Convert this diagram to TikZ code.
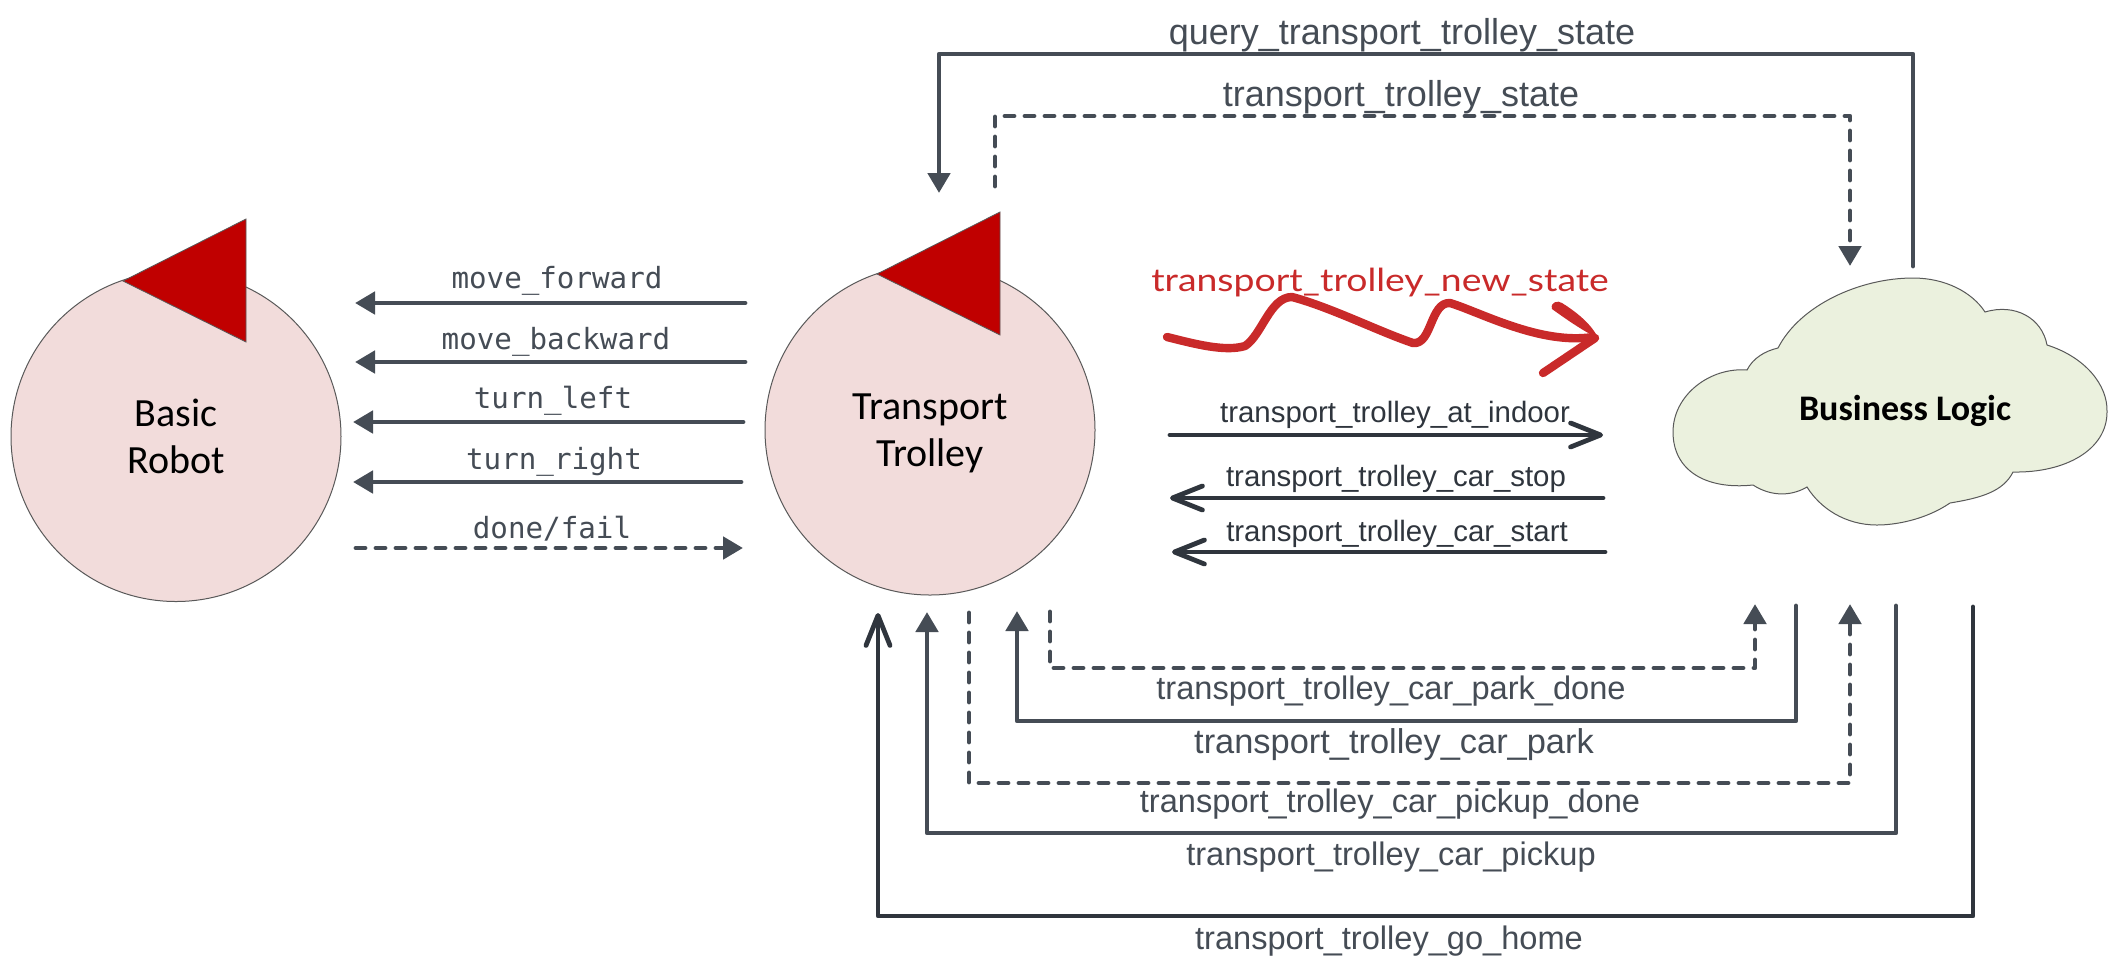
\documentclass[tikz,border=0pt]{standalone}
\usepackage{fontspec}
\setmainfont{Carlito}
\newfontfamily\arialf{Liberation Sans}
\newfontfamily\monof{DejaVu Sans Mono}
\newfontfamily\handf{Lato}
\usetikzlibrary{arrows.meta}
\definecolor{wire}{HTML}{454C55}
\definecolor{wiredark}{HTML}{2F353D}
\definecolor{redtri}{HTML}{C00000}
\definecolor{pinkfill}{HTML}{F2DCDB}
\definecolor{cloudfill}{HTML}{EBF1DE}
\definecolor{edgegray}{HTML}{595959}
\definecolor{handred}{HTML}{C92A2A}
\tikzset{
  ball/.style={circle,draw=edgegray,line width=0.5pt,fill=pinkfill,minimum size=165pt,inner sep=0pt,align=center,font=\fontsize{20}{23.5}\selectfont,text=black},
  balltext/.style={inner sep=0pt,align=center,font=\fontsize{20}{23.5}\selectfont,text=black},
  pointer/.style={draw=edgegray,fill=redtri,line width=0.4pt,line join=miter},
  solidlink/.style={draw=wire,line width=2.4pt,line join=round,line cap=round,-{Triangle[length=10pt,width=11pt]}},
  dashlink/.style={solidlink,dash pattern=on 4.5pt off 5.5pt},
  openlink/.style={draw=wiredark,line width=2.4pt,line join=round,line cap=round,-{Straight Barb[length=15pt,width=12pt,round]}},
  monolabel/.style={font=\monof\fontsize{14.6}{17}\selectfont,text=wire,inner sep=0pt},
  biglabel/.style={font=\arialf\fontsize{18}{21}\selectfont,text=wire,inner sep=0pt},
  midlabel/.style={font=\arialf\fontsize{16.3}{19}\selectfont,text=wire,inner sep=0pt},
  smalllabel/.style={font=\arialf\fontsize{14.7}{17}\selectfont,text=wiredark,inner sep=0pt},
}
\begin{document}
\begin{tikzpicture}[x=0.5pt,y=-0.5pt]
\useasboundingbox (0,0) rectangle (2119,966);
\fill[white] (0,0) rectangle (2119,966);

% Actors
\node[ball] (robot) at (176,436.5) {};
\node[balltext] (robottext) at (176,436.5) {Basic\\Robot};
\path[pointer] (123,281) -- (246,219) -- (246,342) -- cycle;
\node[ball] (trolley) at (930,430) {};
\node[balltext] (trolleytext) at (930,433) {Transport\\Trolley};
\path[pointer] (877,274) -- (1000,212) -- (1000,335) -- cycle;

\draw[draw=edgegray,fill=cloudfill,line width=0.5pt]
  (1778,348) .. controls (1800,305) and (1860,278) .. (1913,278)
  .. controls (1945,278) and (1972,292) .. (1985,312)
  .. controls (2015,303) and (2042,318) .. (2047,345)
  .. controls (2085,357) and (2108,385) .. (2107,412)
  .. controls (2107,450) and (2065,473) .. (2013,472)
  .. controls (2003,492) and (1980,498) .. (1950,503)
  .. controls (1925,520) and (1895,525) .. (1877,525)
  .. controls (1845,525) and (1820,508) .. (1807,487)
  .. controls (1790,497) and (1770,496) .. (1753,485)
  .. controls (1705,490) and (1673,470) .. (1673,432)
  .. controls (1673,395) and (1710,367) .. (1747,370)
  .. controls (1753,358) and (1765,351) .. (1778,348) -- cycle;
\node[font=\bfseries\fontsize{18}{21}\selectfont,text=black,inner sep=0pt] (logic) at (1905,411) {Business Logic};

% Coordinates of free ends
\coordinate (mfA) at (745,303);  \coordinate (mfB) at (355,303);
\coordinate (mbA) at (745,362);  \coordinate (mbB) at (355,362);
\coordinate (tlA) at (743,422);  \coordinate (tlB) at (353,422);
\coordinate (trA) at (741,482);  \coordinate (trB) at (353,482);
\coordinate (dfA) at (356,548);  \coordinate (dfB) at (743,548);

\coordinate (qA) at (1913,266);  \coordinate (qB) at (1913,54); \coordinate (qC) at (939,54); \coordinate (qD) at (939,193);
\coordinate (sA) at (995,186);   \coordinate (sB) at (995,116); \coordinate (sC) at (1850,116); \coordinate (sD) at (1850,266);

\coordinate (iA) at (1170,435);  \coordinate (iB) at (1603,435);
\coordinate (cA) at (1603,498);  \coordinate (cB) at (1170,498);
\coordinate (eA) at (1605,552);  \coordinate (eB) at (1172,552);

\coordinate (pdA) at (1050,612); \coordinate (pdB) at (1050,668); \coordinate (pdC) at (1755,668); \coordinate (pdD) at (1755,604);
\coordinate (pA) at (1796,606);  \coordinate (pB) at (1796,721);  \coordinate (pC) at (1017,721);  \coordinate (pD) at (1017,611);
\coordinate (kdA) at (969,613);  \coordinate (kdB) at (969,783);  \coordinate (kdC) at (1850,783);  \coordinate (kdD) at (1850,604);
\coordinate (kA) at (1896,606);  \coordinate (kB) at (1896,833);  \coordinate (kC) at (927,833);   \coordinate (kD) at (927,612);
\coordinate (hA) at (1973,607);  \coordinate (hB) at (1973,916);  \coordinate (hC) at (878,916);   \coordinate (hD) at (878,613);

% Robot commands
\draw[solidlink] (mfA) -- (mfB);
\draw[solidlink] (mbA) -- (mbB);
\draw[solidlink] (tlA) -- (tlB);
\draw[solidlink] (trA) -- (trB);
\draw[dashlink] (dfA) -- (dfB);
\node[monolabel] (lmf) at (557,281) {move\_forward};
\node[monolabel] (lmb) at (556,342) {move\_backward};
\node[monolabel] (ltl) at (553,401) {turn\_left};
\node[monolabel] (ltr) at (554,462) {turn\_right};
\node[monolabel] (ldf) at (552,529) {done/fail};

% Top routes
\draw[solidlink] (qA) -- (qB) -- (qC) -- (qD);
\draw[dashlink] (sA) -- (sB) -- (sC) -- (sD);
\node[biglabel] (lq) at (1402,35) {query\_transport\_trolley\_state};
\node[biglabel] (ls) at (1401,97) {transport\_trolley\_state};

% Hand-drawn red arrow
\draw[handred,line width=4.2pt,line cap=round,line join=round]
  (1167,337) .. controls (1195,344) and (1225,352) .. (1245,346)
  .. controls (1262,335) and (1270,297) .. (1292,297)
  .. controls (1330,307) and (1380,332) .. (1413,343)
  .. controls (1432,345) and (1430,302) .. (1450,303)
  .. controls (1480,312) and (1540,345) .. (1593,337);
\draw[handred,line width=4.2pt,line cap=round,line join=round]
  (1543,373) -- (1595,338);
\fill[handred,line cap=round] (1552,309) .. controls (1550,302) and (1558,300) .. (1562,303)
  .. controls (1578,313) and (1592,325) .. (1598,338)
  .. controls (1585,332) and (1570,322) .. (1552,309) -- cycle;
\node[font=\handf\fontsize{18.7}{21}\selectfont,text=handred,inner sep=0pt] (lnew) at (1380,283) {\scalebox{1}[0.85]{transport\_trolley\_new\_state}};

% Middle arrows
\draw[openlink] (iA) -- (iB);
\draw[openlink] (cA) -- (cB);
\draw[openlink] (eA) -- (eB);
\node[smalllabel] (li) at (1395,415) {transport\_trolley\_at\_indoor};
\node[smalllabel] (lc) at (1396,479) {transport\_trolley\_car\_stop};
\node[smalllabel] (le) at (1397,534) {transport\_trolley\_car\_start};

% Bottom routes
\draw[dashlink] (pdA) -- (pdB) -- (pdC) -- (pdD);
\draw[solidlink] (pA) -- (pB) -- (pC) -- (pD);
\draw[dashlink] (kdA) -- (kdB) -- (kdC) -- (kdD);
\draw[solidlink] (kA) -- (kB) -- (kC) -- (kD);
\draw[openlink] (hA) -- (hB) -- (hC) -- (hD);
\node[midlabel] (lpd) at (1391,691) {transport\_trolley\_car\_park\_done};
\node[midlabel,font=\arialf\fontsize{17.2}{19}\selectfont] (lp) at (1394,745) {transport\_trolley\_car\_park};
\node[midlabel] (lkd) at (1390,804) {transport\_trolley\_car\_pickup\_done};
\node[midlabel] (lk) at (1391,857) {transport\_trolley\_car\_pickup};
\node[midlabel] (lh) at (1389,941) {transport\_trolley\_go\_home};
\end{tikzpicture}
\end{document}
